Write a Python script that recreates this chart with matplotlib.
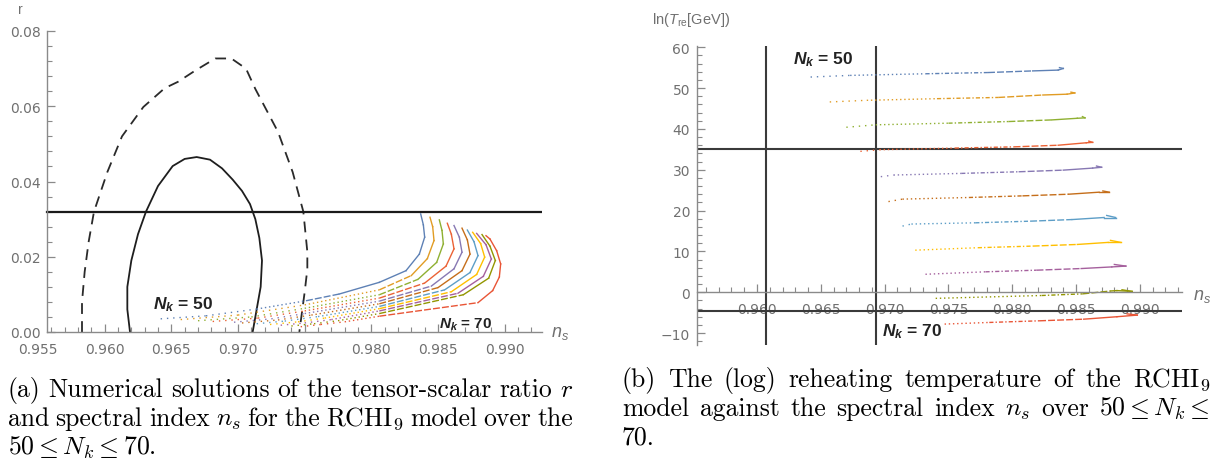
import numpy as np
import matplotlib.pyplot as plt
from matplotlib.ticker import MultipleLocator

plt.rcParams['font.family'] = ['DejaVu Sans']
plt.rcParams['mathtext.fontset'] = 'custom'
plt.rcParams['mathtext.rm'] = 'Liberation Sans'
plt.rcParams['mathtext.it'] = 'Liberation Sans:italic'
plt.rcParams['mathtext.bf'] = 'Liberation Sans:bold'
if 'mathtext.bfit' in plt.rcParams:
    plt.rcParams['mathtext.bfit'] = 'Liberation Sans:italic:bold'

colors = ['#5e81b5', '#e19c24', '#8fb032', '#eb6235', '#8778b3', '#c56e1a',
          '#5d9ec7', '#ffbf00', '#a5609d', '#929600', '#e95536']

# ---- panel (a): Planck-like contours in the (ns, r) plane
ns_68 = [0.9619, 0.9617, 0.9617, 0.9620, 0.9625, 0.9631, 0.9640, 0.9651, 0.9660,
         0.9669, 0.9679, 0.9688, 0.9696, 0.9703, 0.9709, 0.9713, 0.9716, 0.9718,
         0.9717, 0.9714, 0.9711]
r_68 = [0.0, 0.006, 0.012, 0.019, 0.026, 0.032, 0.0388, 0.0441, 0.0460, 0.0465,
        0.0458, 0.0435, 0.0405, 0.0375, 0.034, 0.030, 0.025, 0.019, 0.012, 0.006, 0.0]
ns_95 = [0.9583, 0.9583, 0.9585, 0.9588, 0.9592, 0.9602, 0.9613, 0.9629, 0.9645,
         0.9655, 0.9668, 0.9683, 0.9695, 0.9706, 0.9713, 0.9730, 0.9741, 0.9749,
         0.9752, 0.9752, 0.9750, 0.9746]
r_95 = [0.0, 0.008, 0.016, 0.024, 0.032, 0.0425, 0.052, 0.0598, 0.0648, 0.0665,
        0.0695, 0.0727, 0.0727, 0.0700, 0.0646, 0.0532, 0.0425, 0.032, 0.0213,
        0.0167, 0.0106, 0.0]
r_bound = 0.032

# r vs ns for N_k = 50, 52, ..., 70
ns_a = [
    [0.9642, 0.9676, 0.9714, 0.9751, 0.9776, 0.9806, 0.9826, 0.9836, 0.9840, 0.9839, 0.9837],
    [0.9657, 0.9700, 0.9750, 0.9806, 0.9830, 0.9842, 0.9847, 0.9846, 0.9844],
    [0.9670, 0.9710, 0.9750, 0.9806, 0.9835, 0.9849, 0.9854, 0.9853, 0.9851],
    [0.9681, 0.9715, 0.9750, 0.9806, 0.9840, 0.9856, 0.9862, 0.9860, 0.9857],
    [0.9697, 0.9725, 0.9750, 0.9806, 0.9845, 0.9862, 0.9868, 0.9866, 0.9862],
    [0.9703, 0.9730, 0.9755, 0.9806, 0.9850, 0.9868, 0.9874, 0.9872, 0.9868],
    [0.9714, 0.9735, 0.9760, 0.9806, 0.9855, 0.9874, 0.9880, 0.9877, 0.9872],
    [0.9724, 0.9745, 0.9765, 0.9806, 0.9860, 0.9879, 0.9885, 0.9882, 0.9876],
    [0.9732, 0.9750, 0.9770, 0.9806, 0.9865, 0.9884, 0.9890, 0.9886, 0.9879],
    [0.9740, 0.9757, 0.9775, 0.9806, 0.9869, 0.9888, 0.9893, 0.9889, 0.9883],
    [0.9747, 0.9762, 0.9780, 0.9806, 0.9880, 0.9891, 0.9896, 0.9897, 0.9894, 0.9889, 0.9886],
]
r_a = [
    [0.0035, 0.0043, 0.0061, 0.0083, 0.0101, 0.0132, 0.0163, 0.0207, 0.0252, 0.0285, 0.0314],
    [0.0033, 0.0045, 0.0072, 0.0112, 0.0150, 0.0195, 0.0243, 0.0280, 0.0305],
    [0.0030, 0.0040, 0.0063, 0.0099, 0.0140, 0.0185, 0.0234, 0.0270, 0.0298],
    [0.0028, 0.0037, 0.0056, 0.0090, 0.0130, 0.0175, 0.0221, 0.0260, 0.0289],
    [0.0026, 0.0035, 0.0049, 0.0082, 0.0122, 0.0168, 0.0212, 0.0252, 0.0283],
    [0.0024, 0.0032, 0.0045, 0.0075, 0.0118, 0.0163, 0.0207, 0.0245, 0.0276],
    [0.0022, 0.0029, 0.0041, 0.0068, 0.0112, 0.0158, 0.0203, 0.0240, 0.0271],
    [0.0020, 0.0027, 0.0037, 0.0062, 0.0107, 0.0153, 0.0199, 0.0235, 0.0265],
    [0.0018, 0.0024, 0.0033, 0.0056, 0.0103, 0.0148, 0.0194, 0.0232, 0.0262],
    [0.0016, 0.0022, 0.0030, 0.0049, 0.0099, 0.0143, 0.0190, 0.0228, 0.0259],
    [0.0014, 0.0020, 0.0027, 0.0042, 0.0078, 0.0110, 0.0146, 0.0181, 0.0216, 0.0247, 0.0256],
]

# ---- panel (b): ln(T_re / GeV) vs ns for N_k = 50 ... 70
ns_b = [
    [0.9642, 0.9673, 0.9732, 0.9781, 0.9816, 0.9836, 0.9840, 0.9837],
    [0.9657, 0.9686, 0.9741, 0.9789, 0.9824, 0.9843, 0.9849, 0.9846],
    [0.9670, 0.9693, 0.9750, 0.9797, 0.9831, 0.9851, 0.9857, 0.9855],
    [0.9681, 0.9696, 0.9755, 0.9801, 0.9836, 0.9858, 0.9863, 0.9860],
    [0.9697, 0.9707, 0.9760, 0.9805, 0.9840, 0.9863, 0.9870, 0.9866],
    [0.9703, 0.9714, 0.9766, 0.9808, 0.9844, 0.9868, 0.9876, 0.9871],
    [0.9714, 0.9721, 0.9771, 0.9814, 0.9847, 0.9872, 0.9881, 0.9874],
    [0.9724, 0.9773, 0.9816, 0.9851, 0.9875, 0.9885, 0.9877],
    [0.9732, 0.9779, 0.9819, 0.9854, 0.9878, 0.9889, 0.9880],
    [0.9740, 0.9823, 0.9855, 0.9877, 0.9882, 0.9894, 0.9886],
    [0.9747, 0.9782, 0.9821, 0.9856, 0.9882, 0.9898, 0.9890],
]
lnT_b = [
    [52.7, 53.1, 53.5, 53.8, 54.2, 54.4, 54.8, 55.0],
    [46.6, 47.0, 47.4, 47.7, 48.3, 48.5, 48.8, 49.0],
    [40.4, 41.0, 41.4, 41.8, 42.2, 42.6, 42.7, 43.0],
    [34.5, 34.9, 35.3, 35.6, 36.0, 36.6, 36.7, 37.0],
    [28.3, 28.7, 29.1, 29.5, 29.9, 30.4, 30.6, 30.9],
    [22.2, 22.8, 23.2, 23.6, 24.0, 24.5, 24.5, 24.8],
    [16.2, 16.7, 17.0, 17.4, 17.8, 18.3, 18.3, 18.8],
    [10.3, 10.9, 11.3, 11.7, 12.2, 12.2, 12.7],
    [4.4, 5.0, 5.4, 5.8, 6.2, 6.4, 6.8],
    [-1.5, -0.8, -0.4, 0.3, 0.4, 0.2, 0.6],
    [-7.8, -7.4, -7.0, -6.6, -6.0, -5.6, -5.3],
]
ns_planck = [0.9607, 0.9693]
lnT_limits = [35.0, -4.6]

xticks_a = [0.955, 0.960, 0.965, 0.970, 0.975, 0.980, 0.985, 0.990]
xlabels_a = ['0.955', '0.960', '0.965', '0.970', '0.975', '0.980', '0.985', '0.990']
yticks_a = [0.0, 0.02, 0.04, 0.06, 0.08]
ylabels_a = ['0.00', '0.02', '0.04', '0.06', '0.08']
xticks_b = xticks_a[1:]
xlabels_b = xlabels_a[1:]
yticks_b = [-10, 0, 10, 20, 30, 40, 50, 60]
ylabels_b = ['\u221210', '0', '10', '20', '30', '40', '50', '60']

W, H = 1214, 460
fig = plt.figure(figsize=(W / 100, H / 100), dpi=100)

gray = '#707070'
axgray = '#8a8a8a'
sparse = (0, (1, 3.5))
dots = (0, (1, 2))
dashdot = (0, (3, 1.5, 1, 1.5))
dashed = (0, (5, 1.5))
styles = [sparse, sparse, dots, dashed, '-', '-', '-', '-', '-', '-']
styles_b = [sparse, dots, dashdot, dashed, '-', '-', '-', '-']
nk_font = dict(fontsize=12.5, fontweight='bold', color='#222222', va='baseline',
               family='Liberation Sans')


def style_axes(ax):
    for s in ['top', 'right']:
        ax.spines[s].set_visible(False)
    for s in ['left', 'bottom']:
        ax.spines[s].set_color(axgray)
        ax.spines[s].set_linewidth(1.0)
    ax.tick_params(which='both', direction='in', color=axgray, labelcolor=gray,
                   labelsize=10)
    ax.tick_params(which='major', length=6, width=0.9)
    ax.tick_params(which='minor', length=3.5, width=0.8)
    ax.tick_params(axis='x', pad=7)
    ax.tick_params(axis='y', pad=5)


# ---------------- panel (a)
ax1 = fig.add_axes([38 / W, 1 - 333 / H, 504 / W, 301 / H])
ax1.set_xlim(0.955, 0.9928)
ax1.set_ylim(0, 0.08)
style_axes(ax1)
ax1.spines['left'].set_position(('data', 0.9557))
ax1.spines['bottom'].set_bounds(0.9557, 0.9928)
ax1.set_xticks(xticks_a, xlabels_a)
ax1.set_yticks(yticks_a, ylabels_a)
ax1.xaxis.set_minor_locator(MultipleLocator(0.001))
ax1.yaxis.set_minor_locator(MultipleLocator(0.004))
ax1.xaxis.get_major_ticks()[0].tick1line.set_visible(False)

ax1.plot(ns_68, r_68, color='#1e1e1e', lw=1.3, clip_on=False)
ax1.plot(ns_95, r_95, color='#2a2a2a', lw=1.3, ls=(0, (6, 4)), clip_on=False)
ax1.plot([0.9557, 0.9928], [r_bound, r_bound], color='#1a1a1a', lw=1.6)

for k in range(len(ns_a)):
    xs, ys = ns_a[k], r_a[k]
    for i in range(len(xs) - 1):
        ax1.plot(xs[i:i + 2], ys[i:i + 2], color=colors[k], lw=1.0, ls=styles[i])

ax1.text(0.9636, 0.0064, r'$\mathbfit{N_k}$ = 50', **nk_font)
ax1.text(0.98506, 0.0011, r'$\mathbfit{N_k}$ = 70', **{**nk_font, 'fontsize': 11})
fig.text(20 / W, 1 - 10 / H, r'$\mathrm{r}$', fontsize=10, color=gray, ha='center',
         va='center')
fig.text(560 / W, 1 - 333 / H, r'$n_s$', fontsize=13, color=gray, ha='center',
         va='center')

# ---------------- panel (b)
ax2 = fig.add_axes([697 / W, 1 - 345.5 / H, 485 / W, 298.5 / H])
ax2.set_xlim(0.9553, 0.9933)
ax2.set_ylim(-12.8, 60.3)
style_axes(ax2)
ax2.spines['bottom'].set_position(('data', 0))
ax2.set_xticks(xticks_b, xlabels_b)
ax2.set_yticks(yticks_b, ylabels_b)
ax2.xaxis.set_minor_locator(MultipleLocator(0.001))
ax2.yaxis.set_minor_locator(MultipleLocator(2))

for x in ns_planck:
    ax2.axvline(x, color='#3a3a3a', lw=1.5)
for y in lnT_limits:
    ax2.axhline(y, color='#3a3a3a', lw=1.5)

for k in range(len(ns_b)):
    xs, ys = ns_b[k], lnT_b[k]
    off = 8 - len(xs)
    for i in range(len(xs) - 1):
        ax2.plot(xs[i:i + 2], ys[i:i + 2], color=colors[k], lw=1.0,
                 ls=styles_b[i + off])

ax2.text(0.96282, 56.1, r'$\mathbfit{N_k}$ = 50', **nk_font)
ax2.text(0.96979, -10.5, r'$\mathbfit{N_k}$ = 70', **nk_font)
fig.text(652 / W, 1 - 20 / H, r'ln($T_{\mathrm{re}}$[GeV])', fontsize=10.5, color=gray,
         ha='left', va='center', family='Liberation Sans')
fig.text(1202 / W, 1 - 296 / H, r'$n_s$', fontsize=13, color=gray, ha='center',
         va='center')

# ---------------- captions (justified like LaTeX)
renderer = fig.canvas.get_renderer()
cap_size = 18.5


def caption_line(words, x0, x1, y, justify=True):
    items = [fig.text(x0 / W, 1 - y / H, w, fontsize=cap_size, family='cmr10',
                      math_fontfamily='cm', va='baseline', ha='left') for w in words]
    widths = [t.get_window_extent(renderer).width for t in items]
    if justify and len(words) > 1:
        gap = max((x1 - x0 - sum(widths)) / (len(words) - 1), 2.0)
    else:
        gap = cap_size * 0.45
    x = x0
    for t, w in zip(items, widths):
        t.set_x(x / W)
        x += w + gap


caption_line('(a) Numerical solutions of the tensor-scalar ratio $r$'.split(' '),
             8, 573, 397)
caption_line('and spectral index $n_s$ for the RCHI$_9$ model over the'.split(' '),
             8, 573, 426)
caption_line([r'$50\leq N_k\leq 70$.'], 8, 573, 455, justify=False)
caption_line('(b) The (log) reheating temperature of the RCHI$_9$'.split(' '),
             622, 1210, 387)
caption_line(['model', 'against', 'the', 'spectral', 'index', '$n_s$', 'over',
              r'$50\leq N_k\leq$'], 622, 1210, 416)
caption_line(['70.'], 622, 1210, 445, justify=False)

fig.savefig('out.png', dpi=100)
